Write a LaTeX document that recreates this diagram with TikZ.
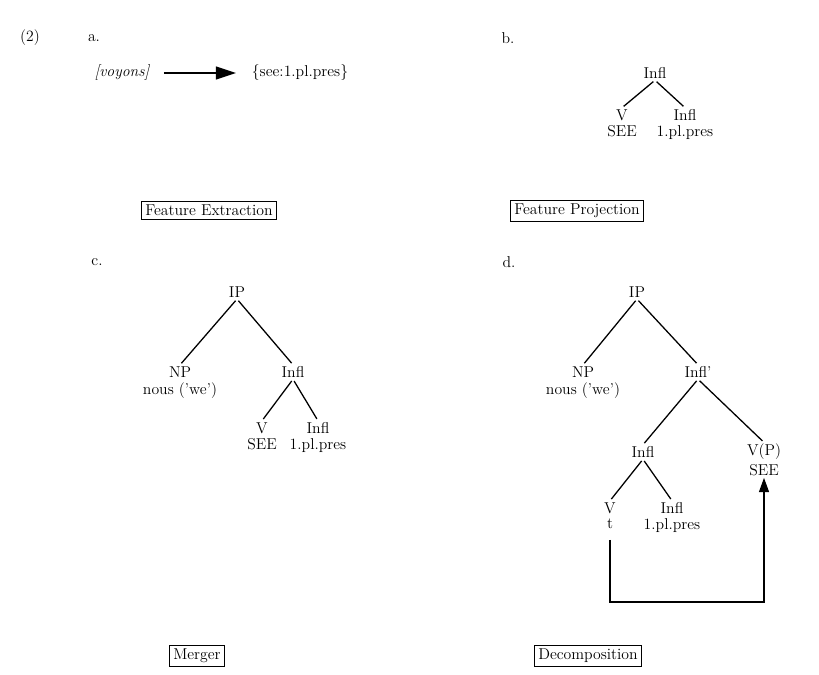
\documentclass[tikz,border=0pt]{standalone}
\usepackage{tikz}
\usetikzlibrary{arrows.meta,positioning}

\begin{document}
\begin{tikzpicture}[
  x=0.7pt, y=-0.7pt,
  font=\fontsize{11}{13}\selectfont,
  cat/.style={inner sep=1pt},
  lex/.style={inner sep=1pt},
  lbl/.style={inner sep=0pt},
  opbox/.style={draw, line width=0.6pt, inner sep=2.5pt},
  branch/.style={draw, line width=0.9pt, shorten <=1.5pt, shorten >=1.5pt},
  arr/.style={draw, line width=0.9pt, -{Triangle[length=10pt, width=7pt]}}
]
\useasboundingbox (0,0) rectangle (819,675);

% labels
\node[lbl] (ex) at (30,38) {(2)};
\node[lbl] (la) at (94,38) {a.};
\node[lbl] (lb) at (508,38) {b.};
\node[lbl] (lc) at (97,262) {c.};
\node[lbl] (ld) at (509,262) {d.};

% (a) feature extraction
\node[cat] (form) at (122,73) {\itshape [voyons]};
\node[cat] (feat) at (300,73) {\{see:1.pl.pres\}};
\draw[arr, line width=1.1pt, -{Triangle[length=14pt, width=9pt]},
      shorten <=9pt, shorten >=10pt] (form.east) -- (feat.west);

% (b) feature projection
\node[cat] (infB) at (655,73) {Infl};
\node[cat] (vB) at (622,115) {V};
\node[lex, below=1pt of vB] (seeB) {SEE};
\node[cat] (inflB) at (685,115) {Infl};
\node[lex, below=1pt of inflB] (agrB) {1.pl.pres};
\draw[branch] (infB.south) -- (vB.north);
\draw[branch] (infB.south) -- (inflB.north);

\node[opbox] (boxA) at (209,210) {Feature Extraction};
\node[opbox] (boxB) at (577,211) {Feature Projection};

% (c) merger
\node[cat] (ipC) at (237,292) {IP};
\node[cat] (npC) at (180,372) {NP};
\node[lex, below=1pt of npC] (nousC) {nous ('we')};
\node[cat] (infC) at (293,372) {Infl};
\node[cat] (vC) at (262,428) {V};
\node[lex, below=1pt of vC] (seeC) {SEE};
\node[cat] (inflC) at (318,428) {Infl};
\node[lex, below=1pt of inflC] (agrC) {1.pl.pres};
\draw[branch] (ipC.south) -- (npC.north);
\draw[branch] (ipC.south) -- (infC.north);
\draw[branch] (infC.south) -- (vC.north);
\draw[branch] (infC.south) -- (inflC.north);

\node[opbox] (boxC) at (197,656) {Merger};

% (d) decomposition
\node[cat] (ipD) at (637,292) {IP};
\node[cat] (npD) at (583,372) {NP};
\node[lex, below=1pt of npD] (nousD) {nous ('we')};
\node[cat] (ibarD) at (698,372) {Infl'};
\node[cat] (infD) at (643,452) {Infl};
\node[cat] (vpD) at (764,452) {V(P)};
\node[lex, below=1pt of vpD] (seeD) {SEE};
\node[cat] (vD) at (610,508) {V};
\node[lex, below=1pt of vD] (tD) {t};
\node[cat] (inflD) at (672,508) {Infl};
\node[lex, below=1pt of inflD] (agrD) {1.pl.pres};
\draw[branch] (ipD.south) -- (npD.north);
\draw[branch] (ipD.south) -- (ibarD.north);
\draw[branch] (ibarD.south) -- (infD.north);
\draw[branch] (ibarD.south) -- (vpD.north);
\draw[branch] (infD.south) -- (vD.north);
\draw[branch] (infD.south) -- (inflD.north);

\coordinate (bend) at (0,602);
\draw[arr, shorten <=7pt] (tD.south) -- (tD.south |- bend) -| (seeD.south);

\node[opbox] (boxD) at (588,656) {Decomposition};
\end{tikzpicture}
\end{document}
